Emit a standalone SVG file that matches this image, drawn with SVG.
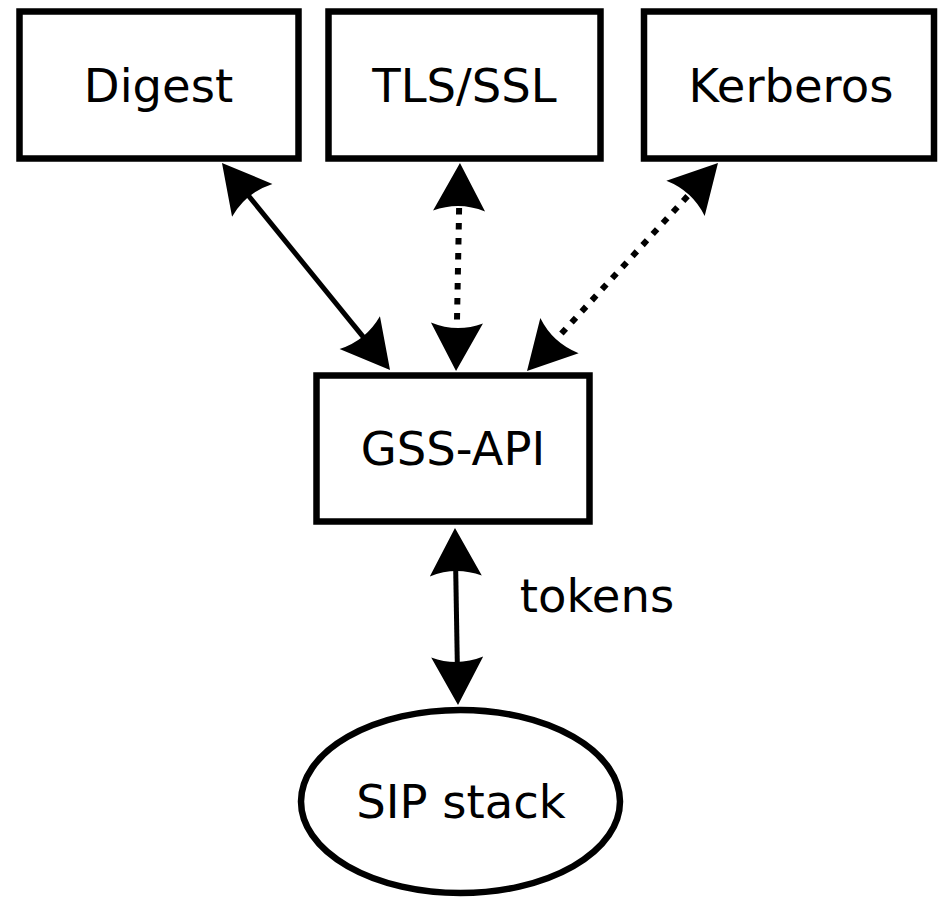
<svg xmlns="http://www.w3.org/2000/svg" width="943" height="900" viewBox="0 0 943 900">
  <style>
    .box { fill: #fff; stroke: #000; stroke-width: 6.5; }
    .lbl { font-family: "DejaVu Sans", "Liberation Sans", sans-serif; font-size: 46.5px; fill: #000; text-anchor: middle; }
    .edge { fill: none; stroke: #000; stroke-width: 5; marker-start: url(#ah); marker-end: url(#ah); }
    .dot { stroke-width: 6; stroke-dasharray: 6.5 8.5; }
  </style>
  <defs>
    <marker id="ah" markerUnits="userSpaceOnUse" orient="auto-start-reverse" viewBox="-20 -28 52 56" refX="0" refY="0" markerWidth="52" markerHeight="56" overflow="visible">
      <path d="M30,0 L-18,-26 Q-8,0 -18,26 Z" fill="#000"/>
    </marker>
  </defs>
  <rect width="943" height="900" fill="#fff"/>
  <g id="connectors">
    <line class="edge" x1="240.9" y1="186.3" x2="371.1" y2="346.7"/>
    <line class="edge dot" x1="459.4" y1="193" x2="456.6" y2="341"/>
    <line class="edge dot" x1="697.7" y1="185.1" x2="547.3" y2="348.9"/>
    <line class="edge" x1="455.5" y1="558" x2="457.5" y2="675"/>
    <text class="lbl" x="597" y="612">tokens</text>
  </g>
  <g id="digest">
    <rect class="box" x="19.5" y="11.5" width="279" height="147"/>
    <text class="lbl" x="158.5" y="102">Digest</text>
  </g>
  <g id="tls">
    <rect class="box" x="328.5" y="11.5" width="272" height="147"/>
    <text class="lbl" x="464.5" y="102">TLS/SSL</text>
  </g>
  <g id="kerberos">
    <rect class="box" x="644" y="11.5" width="290" height="147"/>
    <text class="lbl" x="791" y="102">Kerberos</text>
  </g>
  <g id="gssapi">
    <rect class="box" x="316.5" y="375.5" width="273" height="146"/>
    <text class="lbl" x="453" y="465">GSS-API</text>
  </g>
  <g id="sipstack">
    <ellipse class="box" cx="460.5" cy="801.5" rx="159.5" ry="91.5" stroke-width="6"/>
    <text class="lbl" x="461" y="818">SIP stack</text>
  </g>
</svg>
